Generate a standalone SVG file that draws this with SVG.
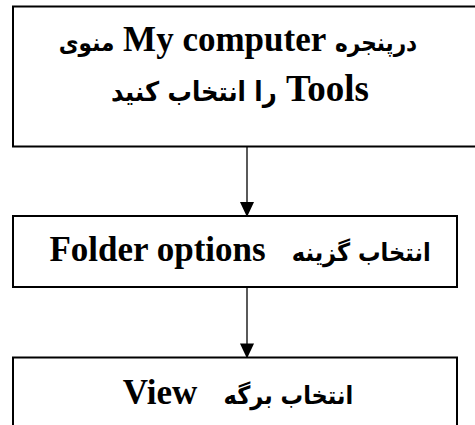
<svg xmlns="http://www.w3.org/2000/svg" width="475" height="425" viewBox="0 0 475 425">
<defs>
<style>
.box{fill:#fff;stroke:#000;stroke-width:2}
.lbl{font-family:"Liberation Serif","DejaVu Sans",serif;font-weight:bold;font-size:35px;fill:#000;text-anchor:middle;direction:rtl;unicode-bidi:embed;white-space:pre}
.big{font-size:37px}
.fa{font-family:"DejaVu Sans Condensed","DejaVu Sans",sans-serif;font-stretch:condensed;font-size:25px}
.fab{font-size:27px}
.fas{font-size:24px}
.conn{stroke:#000;stroke-width:1.3;fill:none}
</style>
<marker id="arr" markerWidth="15" markerHeight="16" refX="15" refY="7.5" orient="auto" markerUnits="userSpaceOnUse" viewBox="0 0 16 15">
<path d="M0,0 L16,7.5 L0,15 Z" fill="#000"/>
</marker>
</defs>
<rect width="475" height="425" fill="#fff"/>
<g id="connectors">
<line class="conn" x1="247" y1="146.5" x2="247" y2="216" marker-end="url(#arr)"/>
<line class="conn" x1="247" y1="287" x2="247" y2="357.5" marker-end="url(#arr)"/>
</g>
<g id="node1">
<rect class="box" x="13" y="6.5" width="470" height="140"/>
<text class="lbl" x="238" y="51"><tspan class="fa fas">درپنجره</tspan> My computer <tspan class="fa fas">منوی</tspan></text>
<text class="lbl big" x="240" y="101">Tools <tspan class="fa fab">را انتخاب کنید</tspan></text>
</g>
<g id="node2">
<rect class="box" x="13" y="216" width="444" height="71"/>
<text class="lbl" x="240" y="261"><tspan class="fa">انتخاب گزینه</tspan>   Folder options</text>
</g>
<g id="node3">
<rect class="box" x="13" y="357.5" width="444" height="80"/>
<text class="lbl" x="238" y="404"><tspan class="fa">انتخاب برگه</tspan>   View</text>
</g>
</svg>
